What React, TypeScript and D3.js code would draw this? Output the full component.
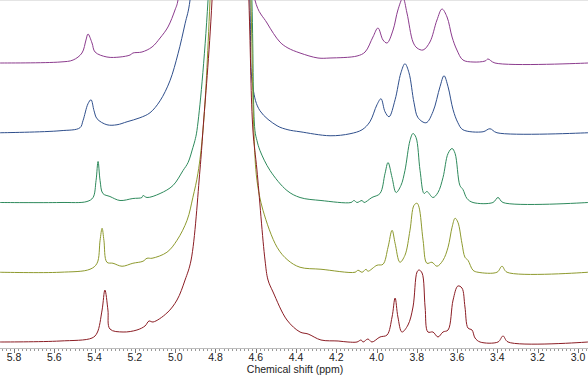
import React from "react";
import * as d3 from "d3";

// [ppm, intensity] pairs (intensity in arbitrary units)
const tracePurple: [number, number][] = [
  [5.87, 0], [5.572, 1], [5.507, 3], [5.463, 10], [5.443, 23], [5.433, 29], [5.413, 20], [5.398, 11],
  [5.339, 6], [5.274, 6], [5.224, 8], [5.21, 10], [5.165, 11], [5.115, 16], [5.075, 25], [5.036, 36],
  [5.001, 53], [4.986, 63], [4.72, 900], [4.604, 63], [4.544, 40], [4.48, 21], [4.44, 15], [4.38, 10],
  [4.291, 5], [4.231, 5], [4.097, 7], [4.057, 11], [4.018, 26], [3.993, 35], [3.968, 23], [3.948, 20],
  [3.918, 33], [3.894, 53], [3.869, 65], [3.849, 50], [3.819, 21], [3.799, 15], [3.769, 13], [3.735, 21],
  [3.7, 43], [3.675, 54], [3.65, 46], [3.625, 26], [3.601, 13], [3.571, 3], [3.521, 1], [3.461, 2],
  [3.447, 4], [3.412, 0], [2.95, 0],
];

const traceBlue: [number, number][] = [
  [5.87, 0], [5.572, 2], [5.473, 5], [5.458, 12], [5.433, 29], [5.418, 33], [5.403, 22], [5.388, 14],
  [5.339, 8], [5.289, 8], [5.239, 11], [5.175, 15], [5.125, 20], [5.075, 32], [5.026, 52], [4.986, 79],
  [4.951, 109], [4.926, 133], [4.72, 900], [4.629, 133], [4.614, 45], [4.579, 22], [4.494, 7], [4.44, 3],
  [4.38, 1], [4.231, -3], [4.132, -1], [4.072, 3], [4.033, 11], [3.998, 28], [3.978, 34], [3.958, 21],
  [3.938, 16], [3.908, 33], [3.879, 60], [3.859, 69], [3.839, 60], [3.814, 30], [3.794, 15], [3.754, 10],
  [3.72, 21], [3.685, 46], [3.665, 57], [3.645, 46], [3.62, 23], [3.596, 10], [3.571, 3], [3.471, 1],
  [3.437, 4], [3.402, 0], [2.95, 0],
];

const traceGreen: [number, number][] = [
  [5.87, 0], [5.572, 0], [5.438, 1], [5.408, 5], [5.393, 22], [5.383, 41], [5.373, 22], [5.359, 9],
  [5.324, 6], [5.274, 2], [5.21, 4], [5.165, 5], [5.16, 7], [5.14, 5], [5.075, 9], [5.011, 17],
  [4.961, 32], [4.936, 40], [4.912, 55], [4.902, 62], [4.892, 72], [4.837, 202], [4.72, 900], [4.619, 202],
  [4.604, 72], [4.594, 62], [4.579, 52], [4.529, 32], [4.445, 12], [4.38, 5], [4.276, 2], [4.127, 0],
  [4.112, 2], [4.097, 0], [4.072, 2], [4.062, 0], [4.023, 5], [3.983, 9], [3.958, 29], [3.943, 40],
  [3.923, 25], [3.903, 10], [3.879, 17], [3.859, 32], [3.834, 62], [3.819, 69], [3.804, 65], [3.784, 32],
  [3.764, 9], [3.75, 11], [3.72, 5], [3.695, 10], [3.67, 25], [3.645, 49], [3.625, 54], [3.61, 49],
  [3.586, 17], [3.571, 13], [3.551, 4], [3.521, 0], [3.422, 0], [3.397, 5], [3.372, 0], [2.95, 0],
];

const traceOlive: [number, number][] = [
  [5.87, 0], [5.572, 0], [5.423, 3], [5.388, 9], [5.373, 32], [5.363, 44], [5.354, 32], [5.339, 10],
  [5.309, 9], [5.264, 6], [5.21, 9], [5.16, 11], [5.14, 14], [5.115, 14], [5.041, 20], [4.991, 32],
  [4.941, 52], [4.912, 75], [4.887, 99], [4.862, 142], [4.827, 272], [4.72, 900], [4.624, 272], [4.609, 140],
  [4.594, 92], [4.564, 62], [4.494, 25], [4.44, 12], [4.38, 5], [4.276, 3], [4.107, 0], [4.092, 2],
  [4.072, 0], [4.052, 3], [4.043, 1], [3.998, 7], [3.968, 8], [3.943, 25], [3.923, 42], [3.908, 29],
  [3.884, 10], [3.859, 17], [3.834, 42], [3.814, 67], [3.799, 69], [3.789, 65], [3.769, 32], [3.75, 9],
  [3.725, 10], [3.7, 6], [3.67, 12], [3.645, 25], [3.625, 45], [3.61, 54], [3.596, 50], [3.576, 29],
  [3.561, 15], [3.546, 12], [3.521, 2], [3.496, 0], [3.402, 0], [3.377, 6], [3.352, 0], [2.95, 0],
];

const traceRed: [number, number][] = [
  [5.87, 0], [5.572, 1], [5.413, 4], [5.388, 9], [5.363, 32], [5.349, 52], [5.334, 32], [5.324, 13],
  [5.259, 10], [5.19, 12], [5.15, 16], [5.13, 21], [5.11, 20], [5.041, 29], [4.991, 42], [4.951, 62],
  [4.921, 82], [4.877, 172], [4.862, 212], [4.817, 342], [4.72, 900], [4.634, 342], [4.614, 212], [4.594, 172],
  [4.554, 82], [4.539, 62], [4.514, 50], [4.445, 22], [4.38, 10], [4.34, 8], [4.276, 2], [4.191, 1],
  [4.142, 0], [4.097, 0], [4.077, 2], [4.067, 0], [4.043, 3], [4.023, 0], [3.983, 5], [3.948, 7],
  [3.923, 25], [3.908, 44], [3.894, 25], [3.874, 10], [3.844, 17], [3.819, 35], [3.799, 70], [3.789, 72],
  [3.774, 69], [3.759, 35], [3.745, 10], [3.72, 10], [3.695, 5], [3.67, 10], [3.645, 12], [3.62, 42],
  [3.596, 56], [3.576, 54], [3.561, 35], [3.546, 14], [3.526, 12], [3.511, 4], [3.486, 0], [3.397, 0],
  [3.372, 6], [3.347, 0], [2.95, 0],
];

// drawn from the top trace down so that the bottom one lies on top
const traces = [tracePurple, traceBlue, traceGreen, traceOlive, traceRed];
const traceColors = ["#8c3c8e", "#2f4f8c", "#2e8a5c", "#8e9a2e", "#8b1d24"];

const majorTicks = [5.8, 5.6, 5.4, 5.2, 5.0, 4.8, 4.6, 4.4, 4.2, 4.0, 3.8, 3.6, 3.4, 3.2, 3.0];
const axisTitle = "Chemical shift (ppm)";

const W = 588;
const H = 376;
const axisY = 348;

export default function App() {
  const x = d3.scaleLinear().domain([5.87, 2.95]).range([0, W]);
  const y = d3.scaleLinear().domain([0, axisY]).range([axisY, 0]);
  const n = traces.length;
  const offsetFor = (i: number) => 6 + 69.75 * (n - 1 - i);

  const minor = d3.range(146, 294).map((k) => k / 50).filter((v) => v >= 2.95 && v <= 5.87);

  return (
    <svg
      width={W}
      height={H}
      style={{ position: "absolute", left: 0, top: 0, background: "#fff" }}
      fontFamily="'Liberation Sans', Arial, sans-serif"
    >
      <defs>
        <clipPath id="plotClip">
          <rect x={0} y={0} width={W} height={axisY} />
        </clipPath>
      </defs>
      <rect x={0} y={0} width={W} height={H} fill="#fff" />
      <line x1={0} x2={W} y1={0.5} y2={0.5} stroke="#e4e4e4" strokeWidth={1} />
      <g clipPath="url(#plotClip)">
        {traces.map((t, i) => {
          const off = offsetFor(i);
          const line = d3
            .line<[number, number]>()
            .x((d) => x(d[0]))
            .y((d) => y(d[1] + off))
            .curve(d3.curveCatmullRom.alpha(0.5));
          return (
            <path
              key={i}
              d={line(t) || ""}
              fill="none"
              stroke={traceColors[i]}
              strokeWidth={1}
              strokeLinejoin="round"
            />
          );
        })}
      </g>
      <g>
        <line x1={0} x2={W} y1={axisY + 0.5} y2={axisY + 0.5} stroke="#bdbdbd" strokeWidth={1} />
        {minor.map((v, k) => (
          <line
            key={"m" + k}
            x1={Math.round(x(v)) + 0.5}
            x2={Math.round(x(v)) + 0.5}
            y1={axisY + 1}
            y2={axisY + 3}
            stroke="#9a9a9a"
            strokeWidth={1}
          />
        ))}
        {majorTicks.map((v) => (
          <g key={v}>
            <line
              x1={Math.round(x(v)) + 0.5}
              x2={Math.round(x(v)) + 0.5}
              y1={axisY + 1}
              y2={axisY + 5}
              stroke="#777"
              strokeWidth={1}
            />
            <text x={x(v)} y={360.5} fontSize={10.5} textAnchor="middle" fill="#222">
              {v.toFixed(1)}
            </text>
          </g>
        ))}
        <text x={295} y={373} fontSize={10.5} textAnchor="middle" fill="#222">
          {axisTitle}
        </text>
      </g>
    </svg>
  );
}
